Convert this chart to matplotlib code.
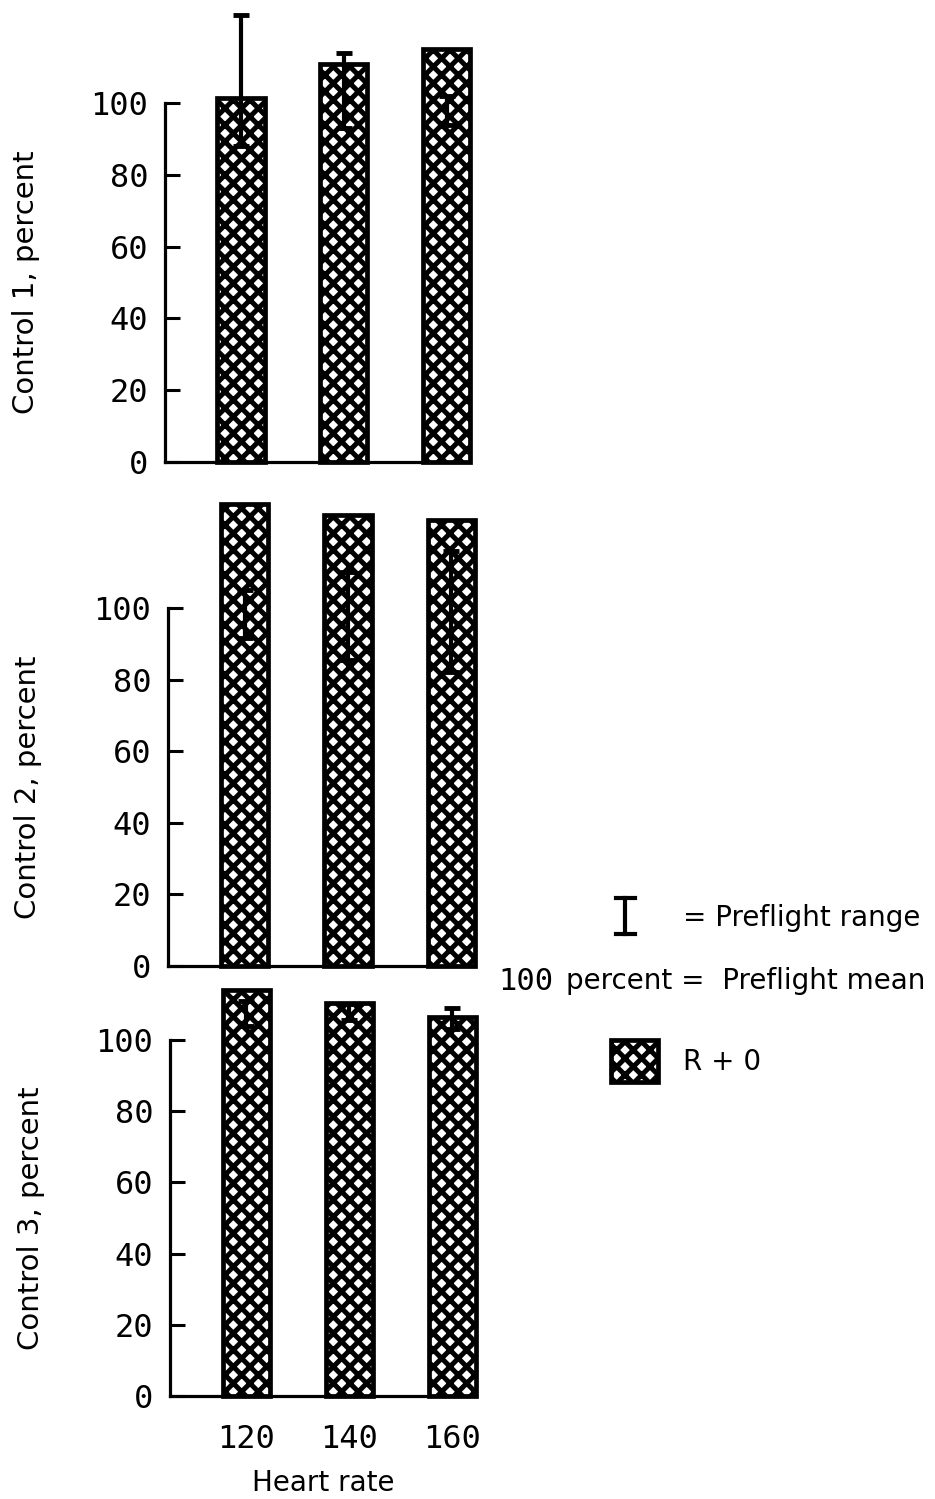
import matplotlib
matplotlib.use("Agg")
import matplotlib.pyplot as plt
from matplotlib.patches import Rectangle
from matplotlib.lines import Line2D

# ─── data ──────────────────────────────────────────────────────
heart_rate = ["120", "140", "160"]

control1 = [101.5, 111.0, 115.0]
control1_lo = [88.0, 93.0, 94.0]
control1_hi = [124.5, 114.0, 102.0]

control2 = [129.0, 126.0, 124.5]
control2_lo = [91.5, 85.5, 82.0]
control2_hi = [105.0, 110.0, 116.0]

control3 = [114.0, 110.5, 106.5]
control3_lo = [104.0, 105.5, 103.0]
control3_hi = [111.0, 110.0, 109.0]

panels = [
    ("Control 1, percent", control1, control1_lo, control1_hi),
    ("Control 2, percent", control2, control2_lo, control2_hi),
    ("Control 3, percent", control3, control3_lo, control3_hi),
]

W, H = 935, 1499
NARROW = ["DejaVu Sans"]
MONO = ["DejaVu Sans Mono"]

plt.rcParams["hatch.linewidth"] = 3.6
plt.rcParams["hatch.color"] = "black"

fig = plt.figure(figsize=(W / 100, H / 100), dpi=100)

# axes boxes in pixels: (left, zero line y, 100 line y, right)
boxes = [(165, 462, 103, 470), (168, 966, 608, 475), (170, 1396, 1040, 476)]

x = list(range(len(heart_rate)))
for i, ((label, vals, lo, hi), (l, y0, y100, r)) in enumerate(zip(panels, boxes)):
    ax = fig.add_axes([l / W, 1 - y0 / H, (r - l) / W, (y0 - y100) / H])
    ax.bar(x, vals, width=0.46, facecolor="white", edgecolor="black",
           hatch="xx", linewidth=3.4, clip_on=False, zorder=2)
    mid = [(a + b) / 2 for a, b in zip(lo, hi)]
    err = [[m - a for m, a in zip(mid, lo)], [b - m for m, b in zip(mid, hi)]]
    ax.errorbar(x, mid, yerr=err, fmt="none", ecolor="black", elinewidth=3,
                capsize=6, capthick=3.5, clip_on=False, zorder=3)
    ax.set_xlim(-0.74, 2.228)
    ax.set_ylim(0, 100)
    ax.spines[["top", "right"]].set_visible(False)
    ax.spines["left"].set_linewidth(2.3)
    ax.spines["bottom"].set_linewidth(2.3)
    ax.set_yticks([0, 20, 40, 60, 80, 100])
    ax.tick_params(axis="y", direction="in", length=11, width=2.2, pad=12,
                   labelsize=23)
    for t in ax.get_yticklabels():
        t.set_family(MONO)
    ax.set_ylabel(label, fontsize=21, family=NARROW)
    ax.yaxis.set_label_coords(-0.41, 0.5)
    if i == 2:
        ax.set_xticks(x, heart_rate)
        ax.tick_params(axis="x", length=0, pad=20, labelsize=23)
        for t in ax.get_xticklabels():
            t.set_family(MONO)
        ax.set_xlabel("Heart rate", fontsize=20, family=NARROW, labelpad=10)
    else:
        ax.set_xticks([])

# ─── legend block ───────────────────────────────────────────────
def fx(px):
    return px / W

def fy(py):
    return 1 - py / H

# range symbol
fig.add_artist(Line2D([fx(625), fx(625)], [fy(898), fy(934)], color="black", lw=3))
for yy in (898, 934):
    fig.add_artist(Line2D([fx(616), fx(635)], [fy(yy), fy(yy)], color="black", lw=3))
fig.text(fx(683), fy(918), "= Preflight range", fontsize=20, family=NARROW,
         ha="left", va="center")

fig.text(fx(553), fy(981), "100", fontsize=22, family=MONO, ha="right", va="center")
fig.text(fx(925), fy(981), "percent =  Preflight mean", fontsize=20, family=NARROW,
         ha="right", va="center")

fig.add_artist(Rectangle((fx(611), fy(1082)), fx(47), 42 / H, transform=fig.transFigure,
                         facecolor="white", edgecolor="black", hatch="xx", linewidth=3.4))
fig.text(fx(683), fy(1062), "R + 0", fontsize=20, family=NARROW, ha="left", va="center")

fig.savefig("out.png", dpi=100)
